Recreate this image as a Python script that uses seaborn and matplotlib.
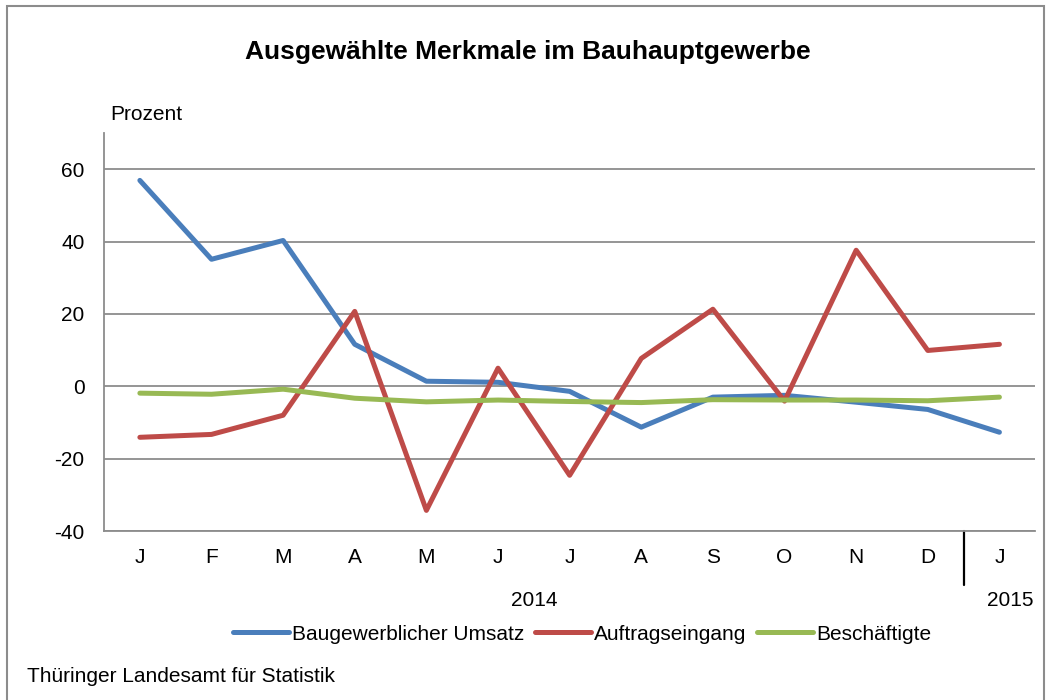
import pandas as pd
import matplotlib.pyplot as plt
import seaborn as sns
from matplotlib.lines import Line2D
from matplotlib.patches import Rectangle

# Monatswerte (Veränderung in Prozent)
monate = ["J", "F", "M", "A", "M", "J", "J", "A", "S", "O", "N", "D", "J"]
umsatz = [56.9, 35.1, 40.3, 11.6, 1.4, 1.1, -1.4, -11.3, -3.0, -2.5, -4.4, -6.4, -12.7]
auftrag = [-14.1, -13.3, -8.0, 20.7, -34.3, 5.0, -24.6, 7.7, 21.3, -4.1, 37.6, 9.9, 11.6]
beschaeftigte = [-1.9, -2.2, -0.8, -3.3, -4.3, -3.8, -4.2, -4.5, -3.7, -3.8, -3.8, -4.0, -3.0]

serien = ["Baugewerblicher Umsatz", "Auftragseingang", "Beschäftigte"]
farben = ["#4A7EBB", "#BE4B48", "#98B954"]

df = pd.DataFrame({
    "pos": list(range(len(monate))) * 3,
    "wert": umsatz + auftrag + beschaeftigte,
    "serie": [s for s in serien for _ in monate],
})

sns.set_style("white")
plt.rcParams["font.family"] = ["Liberation Sans", "DejaVu Sans"]
plt.rcParams["axes.unicode_minus"] = False
plt.rcParams["text.color"] = "black"
plt.rcParams["xtick.color"] = "black"
plt.rcParams["ytick.color"] = "black"

fig = plt.figure(figsize=(10.51, 7), dpi=100)
ax = fig.add_axes([0.099, 0.2414, 0.886, 0.5686])

sns.lineplot(data=df, x="pos", y="wert", hue="serie", hue_order=serien,
             palette=farben, linewidth=3.6, legend=False, ax=ax,
             solid_capstyle="round")

ax.set_xlim(-0.5, 12.5)
ax.set_ylim(-40, 70)
ax.set_yticks([-40, -20, 0, 20, 40, 60])
ax.set_xticks(range(len(monate)))
ax.set_xticklabels(monate)
ax.set_xlabel("")
ax.set_ylabel("")
ax.grid(axis="y", color="#8c8c8c", linewidth=1.3)
ax.set_axisbelow(True)
for s in ["top", "right"]:
    ax.spines[s].set_visible(False)
for s in ["left", "bottom"]:
    ax.spines[s].set_color("#8c8c8c")
    ax.spines[s].set_linewidth(1.3)
ax.tick_params(axis="y", length=5, color="#8c8c8c", labelcolor="black",
               labelsize=15, pad=9)
ax.tick_params(axis="x", length=0, labelcolor="black", labelsize=15, pad=12)

# Jahrestrenner zwischen D und J
ax.plot([11.5, 11.5], [-40, -55], color="black", linewidth=1.6, clip_on=False)
ax.text(5.5, -59.3, "2014", ha="center", va="center", fontsize=15)
ax.text(12.15, -59.3, "2015", ha="center", va="center", fontsize=15)

ax.text(-0.42, 75, "Prozent", ha="left", va="center", fontsize=15)

fig.text(0.502, 0.926, "Ausgewählte Merkmale im Bauhauptgewerbe",
         ha="center", va="center", fontsize=19, fontweight="bold")

handles = [Line2D([], [], color=c, linewidth=3.6) for c in farben]
fig.legend(handles, serien, loc="center", bbox_to_anchor=(0.554, 0.094),
           ncol=3, frameon=False, fontsize=15, handlelength=2.7,
           handletextpad=0.15, columnspacing=0.5)

fig.text(0.026, 0.033, "Thüringer Landesamt für Statistik", ha="left",
         va="center", fontsize=15)

fig.patches.append(Rectangle((0.007, -0.01), 0.986, 1.001, transform=fig.transFigure,
                             fill=False, edgecolor="#8c8c8c", linewidth=1.5))

fig.savefig("out.png", dpi=100)
